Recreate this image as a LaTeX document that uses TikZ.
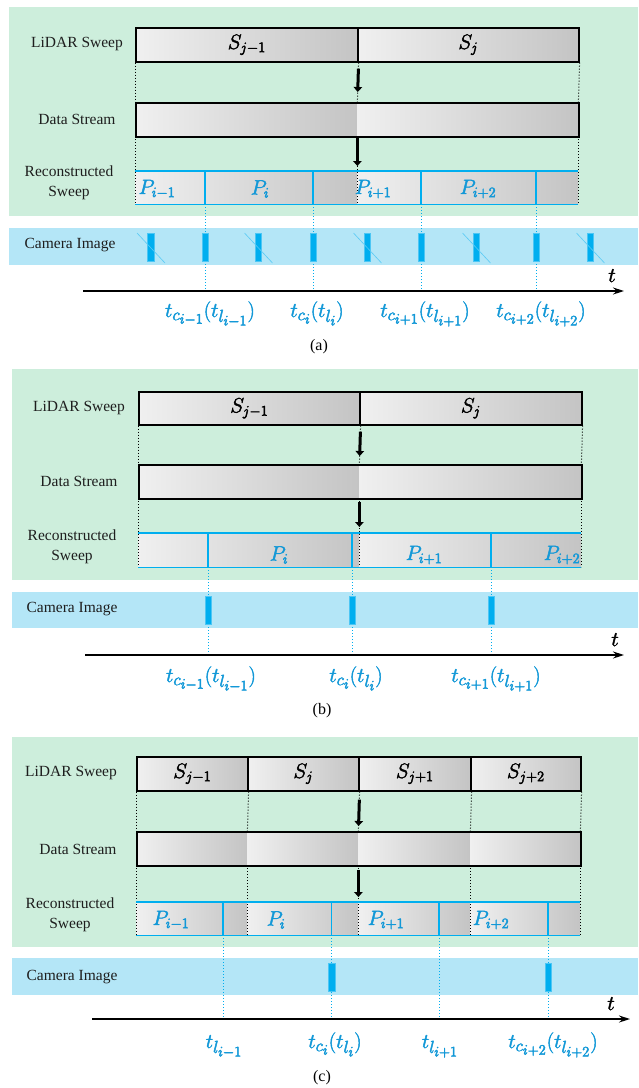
\documentclass[tikz,border=0pt]{standalone}
\usepackage{fontspec}
\setmainfont{Liberation Serif}
\usetikzlibrary{arrows.meta,calc}
\DeclareMathSizes{21}{21}{15}{11}
\DeclareMathSizes{22}{22}{17}{15}

\definecolor{bggreen}{RGB}{205,238,220}
\definecolor{camband}{RGB}{180,230,247}
\definecolor{lineblue}{RGB}{0,174,239}
\definecolor{textblue}{RGB}{18,152,215}
\definecolor{barlight}{RGB}{240,240,240}
\definecolor{bardark}{RGB}{196,196,196}
\definecolor{inkgray}{RGB}{30,30,30}

% math labels are set slightly heavier: glyphs are filled and outlined
\newcommand\heavy[1]{\special{pdf:literal direct 2 Tr 0.45 w}#1\special{pdf:literal direct 0 Tr}}

\tikzset{
  panelbg/.style={fill=bggreen, draw=none},
  bandbg/.style={fill=camband, draw=none},
  rowlabel/.style={font=\fontsize{15.5}{20}\selectfont, align=center, text=inkgray, inner sep=0pt},
  mathlbl/.style={font=\fontsize{21}{24}\selectfont, inner sep=0pt},
  sweepbox/.style={draw=black, line width=1.6pt, left color=barlight, right color=bardark,
                   inner sep=0pt, anchor=north west, font=\fontsize{21}{24}\selectfont},
  streamseg/.style={draw=none, left color=barlight, right color=bardark, inner sep=0pt, anchor=north west},
  frame/.style={draw=black, line width=1.6pt, inner sep=0pt, anchor=north west},
  plabel/.style={mathlbl, text=textblue},
  tlabel/.style={font=\fontsize{22}{26}\selectfont, inner sep=0pt, text=textblue, anchor=base},
  recedge/.style={draw=lineblue, line width=1.4pt},
  sweepdots/.style={draw=black, line width=1pt, dotted},
  syncdots/.style={draw=lineblue, line width=1pt, dotted},
  flow/.style={draw=black, line width=3pt, -{Triangle[length=5pt,width=8.5pt]}},
  timeaxis/.style={draw=black, line width=1.3pt, -{Stealth[length=11pt,width=7pt]}},
  shot/.style={fill=lineblue, draw=lineblue!70!white, line width=0.4pt,
               minimum width=6.5pt, minimum height=28pt, inner sep=0pt},
  dropmark/.style={draw=lineblue!65!white, line width=0.6pt},
  caption/.style={font=\fontsize{16}{18}\selectfont, inner sep=0pt},
}

% rectangle node spanning (x1,y1)-(x2,y2): style, name, x1, y1, x2, y2, text
\newcommand\spanbox[7]{\node[#1, minimum width={(#5-#3)*1pt}, minimum height={(#6-#4)*1pt}] (#2) at (#3,#4) {#7};}

\begin{document}
\begin{tikzpicture}[x=1pt,y=-1pt]
\useasboundingbox (0,0) rectangle (638,1088);

% ===================== (a) =====================
\fill[panelbg] (9,7) rectangle (638,216);
\fill[bandbg] (9,228) rectangle (638,265);

\node[rowlabel] (a-l1) at (77,44) {LiDAR Sweep};
\node[rowlabel] (a-l2) at (77,119) {Data Stream};
\node[rowlabel] (a-l3) at (69,183) {Reconstructed\\Sweep};
\node[rowlabel] (a-l4) at (70,245) {Camera Image};

\spanbox{streamseg}{a-d1}{135}{102}{357}{136}{}
\spanbox{streamseg}{a-d2}{357}{102}{578}{136}{}
\spanbox{streamseg}{a-r1}{135}{171}{357}{204}{}
\spanbox{streamseg}{a-r2}{357}{171}{578}{204}{}
\spanbox{sweepbox}{a-s1}{135}{27}{357}{61}{\heavy{$S_{j-1}$}}
\spanbox{sweepbox}{a-s2}{357}{27}{578}{61}{\heavy{$S_j$}}

\draw[sweepdots] (a-s1.south west) -- (a-d1.north west);
\draw[sweepdots] (a-d1.south west) -- (a-r1.south west);
\draw[sweepdots] (a-s1.south east) -- (a-d1.north east);
\draw[sweepdots] (a-d1.south east) -- (a-r1.south east);
\draw[sweepdots] (a-s2.south east) -- (a-d2.north east);
\draw[sweepdots] (a-d2.south east) -- (a-r2.south east);

\spanbox{frame}{a-df}{135}{102}{578}{136}{}

\draw[recedge] (a-r1.north west) -- (a-r2.north east);
\draw[recedge] (a-r1.south west) -- (a-r2.south east);
\foreach \n/\x in {1/205,2/313,3/421,4/536} {
  \coordinate (a-p\n) at (\x,171);
  \draw[recedge] (a-p\n) -- (a-p\n |- a-r1.south);
}
\node[plabel] (a-P1) at (157,189) {\heavy{$P_{i-1}$}};
\node[plabel] (a-P2) at (260,189) {\heavy{$P_i$}};
\node[plabel] (a-P3) at (373,189) {\heavy{$P_{i+1}$}};
\node[plabel] (a-P4) at (478,189) {\heavy{$P_{i+2}$}};

\draw[flow, shorten <=6pt, shorten >=10pt] (a-s1.south east) -- (a-d1.north east);
\draw[flow, shorten <=2pt, shorten >=5pt] (a-d1.south east) -- (a-r1.north east);

\coordinate (a-t0) at (83,291);
\coordinate (a-t1) at (624,291);
\foreach \n in {1,...,4} \draw[syncdots] (a-p\n |- a-r1.south) -- (a-p\n |- a-t0);
\draw[timeaxis] (a-t0) -- (a-t1);
\node[mathlbl, anchor=base] (a-t) at (612,282) {\heavy{$t$}};

\foreach \n/\x in {1/150.5,2/205,3/258,4/313,5/367,6/421,7/476,8/536,9/590}
  \node[shot] (a-c\n) at (\x,247) {};
\foreach \n in {1,3,5,7,9}
  \draw[dropmark] ([shift={(-13.5,-14)}]a-c\n.center) -- ([shift={(14.5,16)}]a-c\n.center);

\node[tlabel] (a-T1) at (210,317) {\heavy{$t_{c_{i-1}}(t_{l_{i-1}})$}};
\node[tlabel] (a-T2) at (317,317) {\heavy{$t_{c_i}(t_{l_i})$}};
\node[tlabel] (a-T3) at (425,317) {\heavy{$t_{c_{i+1}}(t_{l_{i+1}})$}};
\node[tlabel] (a-T4) at (541,317) {\heavy{$t_{c_{i+2}}(t_{l_{i+2}})$}};

\node[caption] (a-cap) at (319,347) {(a)};

% ===================== (b) =====================
\fill[panelbg] (12,369) rectangle (638,580);
\fill[bandbg] (12,592) rectangle (638,628);

\node[rowlabel] (b-l1) at (79,408) {LiDAR Sweep};
\node[rowlabel] (b-l2) at (79,481) {Data Stream};
\node[rowlabel] (b-l3) at (72,547) {Reconstructed\\Sweep};
\node[rowlabel] (b-l4) at (72,609) {Camera Image};

\spanbox{streamseg}{b-d1}{138}{464}{359}{498}{}
\spanbox{streamseg}{b-d2}{359}{464}{581}{498}{}
\spanbox{streamseg}{b-r1}{138}{533}{359}{567}{}
\spanbox{streamseg}{b-r2}{359}{533}{581}{567}{}
\spanbox{sweepbox}{b-s1}{138}{391}{359}{424}{\heavy{$S_{j-1}$}}
\spanbox{sweepbox}{b-s2}{359}{391}{581}{424}{\heavy{$S_j$}}

\draw[sweepdots] (b-s1.south west) -- (b-d1.north west);
\draw[sweepdots] (b-d1.south west) -- (b-r1.south west);
\draw[sweepdots] (b-s1.south east) -- (b-d1.north east);
\draw[sweepdots] (b-d1.south east) -- (b-r1.south east);
\draw[sweepdots] (b-s2.south east) -- (b-d2.north east);
\draw[sweepdots] (b-d2.south east) -- (b-r2.south east);

\spanbox{frame}{b-df}{138}{464}{581}{498}{}

\draw[recedge] (b-r1.north west) -- (b-r2.north east);
\draw[recedge] (b-r1.south west) -- (b-r2.south east);
\foreach \n/\x in {1/208,2/352,3/491} {
  \coordinate (b-p\n) at (\x,533);
  \draw[recedge] (b-p\n) -- (b-p\n |- b-r1.south);
}
\node[plabel] (b-P2) at (279,555) {\heavy{$P_i$}};
\node[plabel] (b-P3) at (424,555) {\heavy{$P_{i+1}$}};
\node[plabel] (b-P4) at (562,555) {\heavy{$P_{i+2}$}};

\draw[flow, shorten <=6pt, shorten >=8pt] (b-s1.south east) -- (b-d1.north east);
\draw[flow, shorten <=4pt, shorten >=6pt] (b-d1.south east) -- (b-r1.north east);

\coordinate (b-t0) at (85,655);
\coordinate (b-t1) at (624,655);
\foreach \n in {1,...,3} \draw[syncdots] (b-p\n |- b-r1.south) -- (b-p\n |- b-t0);
\draw[timeaxis] (b-t0) -- (b-t1);
\node[mathlbl, anchor=base] (b-t) at (615,646) {\heavy{$t$}};

\foreach \n/\x in {1/208,2/352,3/491}
  \node[shot] (b-c\n) at (\x,610) {};

\node[tlabel] (b-T1) at (211,682) {\heavy{$t_{c_{i-1}}(t_{l_{i-1}})$}};
\node[tlabel] (b-T2) at (356,682) {\heavy{$t_{c_i}(t_{l_i})$}};
\node[tlabel] (b-T3) at (496,682) {\heavy{$t_{c_{i+1}}(t_{l_{i+1}})$}};

\node[caption] (b-cap) at (322,711) {(b)};

% ===================== (c) =====================
\fill[panelbg] (12,737) rectangle (638,947);
\fill[bandbg] (12,958) rectangle (638,995);

\node[rowlabel] (c-l1) at (71,773) {LiDAR Sweep};
\node[rowlabel] (c-l2) at (78,849) {Data Stream};
\node[rowlabel] (c-l3) at (70,915) {Reconstructed\\Sweep};
\node[rowlabel] (c-l4) at (72,977) {Camera Image};

\foreach \n/\xa/\xb in {1/136/247,2/247/358,3/358/470,4/470/580} {
  \spanbox{streamseg}{c-d\n}{\xa}{831}{\xb}{865}{}
  \spanbox{streamseg}{c-r\n}{\xa}{902}{\xb}{935}{}
}
\spanbox{sweepbox}{c-s1}{136}{756}{247}{790}{\heavy{$S_{j-1}$}}
\spanbox{sweepbox}{c-s2}{247}{756}{358}{790}{\heavy{$S_j$}}
\spanbox{sweepbox}{c-s3}{358}{756}{470}{790}{\heavy{$S_{j+1}$}}
\spanbox{sweepbox}{c-s4}{470}{756}{580}{790}{\heavy{$S_{j+2}$}}

\draw[sweepdots] (c-s1.south west) -- (c-d1.north west);
\draw[sweepdots] (c-d1.south west) -- (c-r1.south west);
\foreach \n in {1,...,4} {
  \draw[sweepdots] (c-s\n.south east) -- (c-d\n.north east);
  \draw[sweepdots] (c-d\n.south east) -- (c-r\n.south east);
}

\spanbox{frame}{c-df}{136}{831}{580}{865}{}

\draw[recedge] (c-r1.north west) -- (c-r4.north east);
\draw[recedge] (c-r1.south west) -- (c-r4.south east);
\foreach \n/\x in {1/223,2/331.5,3/439,4/548} {
  \coordinate (c-p\n) at (\x,902);
  \draw[recedge] (c-p\n) -- (c-p\n |- c-r1.south);
}
\node[plabel] (c-P1) at (171,920) {\heavy{$P_{i-1}$}};
\node[plabel] (c-P2) at (276,920) {\heavy{$P_i$}};
\node[plabel] (c-P3) at (386,920) {\heavy{$P_{i+1}$}};
\node[plabel] (c-P4) at (491,920) {\heavy{$P_{i+2}$}};

\draw[flow, shorten <=8pt, shorten >=5pt] (c-s2.south east) -- (c-d2.north east);
\draw[flow, shorten <=5pt, shorten >=5pt] (c-d2.south east) -- (c-r2.north east);

\coordinate (c-t0) at (92,1019);
\coordinate (c-t1) at (630,1019);
\foreach \n in {1,...,4} \draw[syncdots] (c-p\n |- c-r1.south) -- (c-p\n |- c-t0);
\draw[timeaxis] (c-t0) -- (c-t1);
\node[mathlbl, anchor=base] (c-t) at (611,1010) {\heavy{$t$}};

\foreach \n/\x in {2/331.5,4/548}
  \node[shot] (c-c\n) at (\x,977) {};

\node[tlabel] (c-T1) at (224,1048) {\heavy{$t_{l_{i-1}}$}};
\node[tlabel] (c-T2) at (335,1048) {\heavy{$t_{c_i}(t_{l_i})$}};
\node[tlabel] (c-T3) at (440,1048) {\heavy{$t_{l_{i+1}}$}};
\node[tlabel] (c-T4) at (553,1048) {\heavy{$t_{c_{i+2}}(t_{l_{i+2}})$}};

\node[caption] (c-cap) at (322,1078) {(c)};

\end{tikzpicture}
\end{document}
